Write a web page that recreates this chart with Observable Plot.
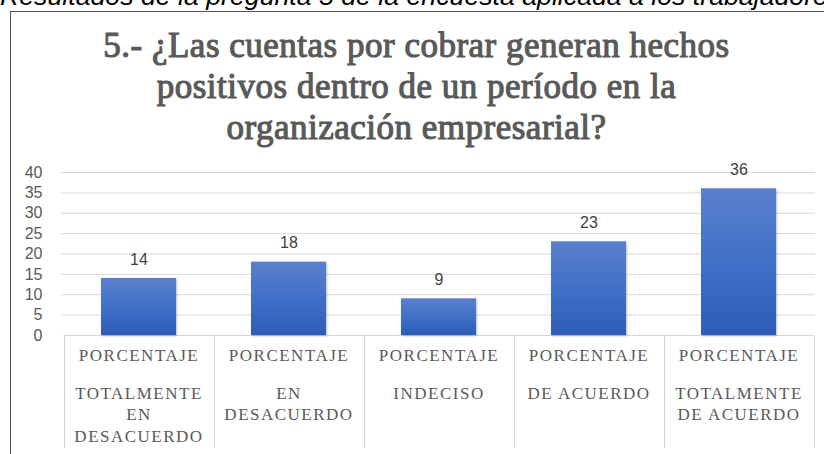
<!DOCTYPE html>
<html>
<head>
<meta charset="utf-8">
<script src="https://cdn.jsdelivr.net/npm/d3@7"></script>
<script src="https://cdn.jsdelivr.net/npm/@observablehq/plot@0.6"></script>
<style>
  html, body { margin: 0; padding: 0; background: #fff; }
  #wrap { position: relative; width: 824px; height: 454px; overflow: hidden; background: #fff; }
  #caption { position: absolute; left: 0; top: -17px; font-family: "Liberation Sans", Arial, sans-serif; font-style: italic; font-size: 26.7px; line-height: 27px; white-space: nowrap; color: #000; }
  #frame { position: absolute; left: 10px; top: 11px; width: 900px; height: 500px; border-left: 1.5px solid #555; border-top: 1.5px solid #555; }
  #chart { position: absolute; left: 0; top: 0; }
  g.xlab { letter-spacing: 1.5px; }
  g.ttl { letter-spacing: 0.5px; }
</style>
</head>
<body>
<div id="wrap">
  <div id="frame"></div>
  <div id="caption">Resultados de la pregunta 5 de la encuesta aplicada a los trabajadores</div>
  <div id="chart"></div>
</div>
<script>
const titleLines = ["5.- ¿Las cuentas por cobrar generan hechos", "positivos dentro de un período en la", "organización empresarial?"];
const categories = ["TD", "ED", "IN", "DA", "TA"];
const topLabels = ["PORCENTAJE", "PORCENTAJE", "PORCENTAJE", "PORCENTAJE", "PORCENTAJE"];
const subLabels = ["TOTALMENTE\nEN\nDESACUERDO", "EN\nDESACUERDO", "INDECISO", "DE ACUERDO", "TOTALMENTE\nDE ACUERDO"];
const values = [14, 18, 9, 23, 36];
const yTicks = [0, 5, 10, 15, 20, 25, 30, 35, 40];

const data = categories.map((c, i) => ({cat: c, value: values[i], top: topLabels[i], sub: subLabels[i]}));

const plot = Plot.plot({
  width: 824,
  height: 454,
  marginTop: 172,
  marginBottom: 119,
  marginLeft: 61,
  marginRight: 9,
  style: {fontFamily: "Liberation Sans, Arial, sans-serif", fontSize: "16px", color: "#595959", background: "transparent"},
  x: {domain: categories, axis: null, paddingInner: 0.5, paddingOuter: 0.25},
  y: {domain: [0, 40], ticks: yTicks, tickSize: 0, tickPadding: 19, label: null, tickFormat: d => String(d)},
  marks: [
    Plot.ruleY(yTicks.filter(t => t > 0), {stroke: "#d9d9d9", strokeWidth: 1}),
    Plot.barY(data, {x: "cat", y: "value", fill: "url(#barGrad)"}),
    Plot.text(data, {x: "cat", y: "value", text: d => String(d.value), dy: -19, fill: "#404040", fontSize: 16}),
    Plot.text(data, {x: "cat", frameAnchor: "bottom", text: "top", dy: 25, fill: "#595959", fontSize: 17, fontFamily: "Liberation Serif"}),
    Plot.text(data, {x: "cat", frameAnchor: "bottom", text: "sub", dy: 48, lineAnchor: "top", lineHeight: 21.5 / 17, fill: "#595959", fontSize: 17, fontFamily: "Liberation Serif"}),
    Plot.text([titleLines.join("\n")], {frameAnchor: "top", text: d => d, dx: -22, dy: -145, lineAnchor: "top", lineHeight: 41 / 35, fill: "#595959", stroke: "#595959", strokeWidth: 1.1, fontSize: 35, fontWeight: "normal", fontFamily: "Liberation Serif"})
  ]
});

// classes for letter spacing on the x labels and the title
plot.querySelectorAll('g[aria-label="text"]').forEach((g, i) => {
  if (i === 1 || i === 2) g.classList.add("xlab");
  if (i === 3) g.classList.add("ttl");
});

// Category box lines, positioned with the plot's own x and y scales
const sx = plot.scale("x"), sy = plot.scale("y");
const step = sx.step, bw = sx.bandwidth, off = (step - bw) / 2;
const starts = categories.map(c => sx.apply(c) - off);
const right = sx.apply(categories[categories.length - 1]) + bw + off;
const y0 = Math.round(sy.apply(0)) + 0.5;
const boxG = d3.create("svg:g").attr("stroke", "#d4d4d4").attr("stroke-width", 1).attr("fill", "none");
boxG.append("line").attr("x1", starts[0]).attr("x2", right).attr("y1", y0).attr("y2", y0);
for (const b of starts.concat([right])) {
  const xb = Math.round(b) + 0.5;
  boxG.append("line").attr("x1", xb).attr("x2", xb).attr("y1", y0).attr("y2", 448);
}
const barG = plot.querySelector('g[aria-label="bar"]');
plot.insertBefore(boxG.node(), barG);

const defs = d3.create("svg:defs");
const grad = defs.append("linearGradient").attr("id", "barGrad").attr("x1", 0).attr("y1", 0).attr("x2", 0).attr("y2", 1);
grad.append("stop").attr("offset", "0%").attr("stop-color", "#5b80cd");
grad.append("stop").attr("offset", "50%").attr("stop-color", "#4170c6");
grad.append("stop").attr("offset", "100%").attr("stop-color", "#2d5cb8");
const filt = defs.append("filter").attr("id", "shadow").attr("x", "-10%").attr("y", "-10%").attr("width", "130%").attr("height", "130%");
filt.append("feDropShadow").attr("dx", 1).attr("dy", 1).attr("stdDeviation", 1).attr("flood-color", "#000").attr("flood-opacity", 0.25);
plot.insertBefore(defs.node(), plot.firstChild);
if (barG) barG.setAttribute("filter", "url(#shadow)");

document.getElementById("chart").appendChild(plot);
</script>
</body>
</html>
